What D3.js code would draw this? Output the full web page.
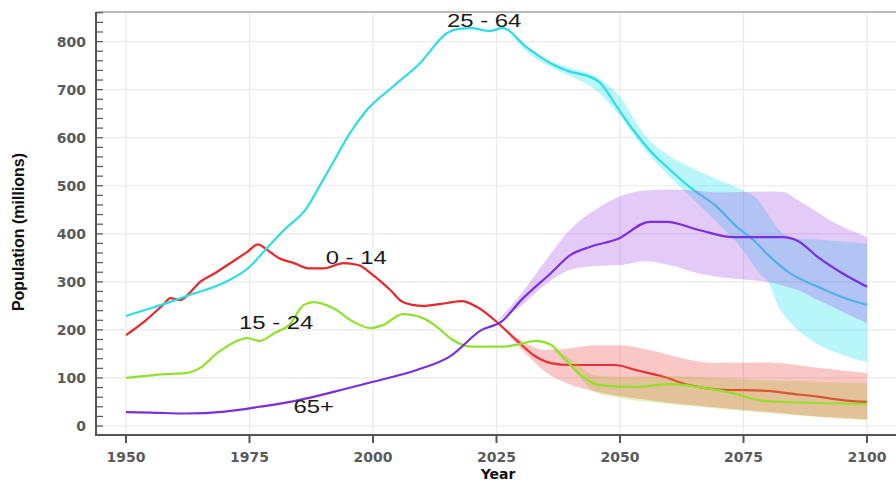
<!DOCTYPE html>
<html>
<head>
<meta charset="utf-8">
<script src="https://cdn.jsdelivr.net/npm/d3@7"></script>
<style>
  html, body { margin: 0; padding: 0; background: #fff; }
  svg { display: block; }
</style>
</head>
<body>
<svg id="chart" width="896" height="482"></svg>
<script>
// median projections, millions, [year, value]
let age0014 = [[1950,189],[1954,220],[1957.5,252],[1959,266],[1961,262],[1962.5,273],[1965,300],[1968,318],
  [1972,345],[1974.5,362],[1976.7,378],[1978.5,367],[1981,349],[1984,339],[1987,328],[1990,328],[1994,339],
  [1997,335],[2000,314],[2003.5,283],[2006,258],[2010,250],[2015,256],[2018,260],[2021,248],[2025,217],
  [2029,179],[2033,144],[2036,131],[2040,127],[2049,127],[2053,117],[2059,102],[2064,85],[2070,76],
  [2080,73],[2084,68],[2090,61],[2095,54],[2100,50]];
let age1524 = [[1950,100],[1958,108],[1962,110],[1965,121],[1968.5,152],[1972,175],[1974.5,183],[1977,177],
  [1980,193],[1983,210],[1986,252],[1988,258],[1992,245],[1996,217],[1999.5,204],[2002,210],[2006,233],
  [2010,225],[2013,206],[2016,180],[2020,165],[2026,165],[2029,169],[2033,177],[2036,169],[2039,137],
  [2042.5,102],[2046,85],[2053,81],[2060,87],[2066,81],[2073,68],[2078,54],[2083,50],[2100,46]];
let age2564 = [[1950,229],[1955,245],[1960,262],[1963,273],[1969.6,297],[1975,331],[1978.5,370],[1982,408],
  [1986.6,454],[1989.5,505],[1992,550],[1995.3,609],[1998.7,657],[2004,706],[2009.5,755],
  [2015,818],[2017,826],[2020,828],[2023.5,822],[2026.3,828],[2031,789],[2036,755],[2040,737],[2043,730],
  [2046,714],[2049.4,664],[2052.7,616],[2056,574],[2059.5,539],[2064,498],[2069.6,456],[2073.7,414],
  [2077,387],[2080.4,352],[2084.4,318],[2090,290],[2095,268],[2100,252]];
let age65 = [[1950,29],[1955,28],[1962,26],[1970,30],[1977,40],[1985,54],[1992,71],[2000,92],[2009,117],
  [2015.6,145],[2022,200],[2026,217],[2030,262],[2036,318],[2040,356],[2044,373],[2049.5,389],[2056,425],
  [2059.5,425],[2066,408],[2073,393],[2083,393],[2086,385],[2090,352],[2095,318],[2100,290]];

// uncertainty bands, [year, low, high]
let band0014 = [[2025,217,217],[2030,160,178],[2035,112,158],[2040,86,162],[2045,72,168],[2050,62,168],
  [2055,55,160],[2060,48,148],[2065,43,136],[2070,38,131],[2080,29,132],[2090,20,121],[2100,14,110]];
let band1524 = [[2035,169,169],[2040,125,140],[2045,70,105],[2050,58,102],[2055,51,103],[2060,46,104],
  [2070,36,100],[2080,27,95],[2090,18,92],[2100,12,89]];
let band2564 = [[2028,815,820],[2030,790,800],[2035,752,762],[2040,728,745],[2045,700,728],[2050,645,685],
  [2055,575,605],[2060,520,562],[2065,470,535],[2070,420,512],[2075,365,490],[2078,320,470],[2080,298,440],
  [2082,250,410],[2085,210,392],[2090,170,388],[2095,148,384],[2100,133,380]];
let band65 = [[2025,217,217],[2030,250,275],[2035,295,345],[2040,325,410],[2045,333,450],[2050,335,478],
  [2055,343,490],[2060,335,492],[2065,320,490],[2070,310,486],[2075,305,487],[2080,300,488],[2083,292,487],
  [2086,283,470],[2090,262,445],[2093,248,425],[2095,238,415],[2100,214,393]];

let xticks = [1950,1975,2000,2025,2050,2075,2100];
let yticks = [0,100,200,300,400,500,600,700,800];

let series = {
  a0014: {name:"0 - 14",  line:age0014, band:band0014, color:"#e8262c", fill:"rgb(240,70,70)",  lab:[1996.6,337]},
  a1524: {name:"15 - 24", line:age1524, band:band1524, color:"#90e02c", fill:"rgb(150,225,40)", lab:[1980.4,202]},
  a2564: {name:"25 - 64", line:age2564, band:band2564, color:"#2cdde6", fill:"rgb(20,225,240)", lab:[2022.5,830]},
  a65:   {name:"65+",     line:age65,   band:band65,   color:"#7b2de0", fill:"rgb(165,80,230)", lab:[1988,27]}
};
// layer order: bands partly over lines, as in the original
let orden = [["a0014","line"],["a1524","band"],["a0014","band"],["a1524","line"],
             ["a2564","band"],["a2564","line"],["a65","band"],["a65","line"]];

let svg = d3.select("#chart");
let mleft = 96, mright = 896, mtop = 12, mbottom = 435;

let xscale = d3.scaleLinear().domain([1950,2100]).range([126,867]);
let yscale = d3.scaleLinear().domain([0,800]).range([426,41.6]);

let plot = svg.append("g");

plot.append("defs").append("clipPath").attr("id","clip")
  .append("rect").attr("x",mleft).attr("y",mtop).attr("width",mright-mleft).attr("height",mbottom-mtop);

// grid
plot.selectAll(".vgrid").data(xticks).enter().append("line")
  .attr("x1",d => xscale(d)).attr("x2",d => xscale(d))
  .attr("y1",mtop).attr("y2",mbottom)
  .style("stroke","#e9e9e9").style("stroke-width",1.2);
plot.selectAll(".hgrid").data(yticks).enter().append("line")
  .attr("x1",mleft).attr("x2",mright)
  .attr("y1",d => yscale(d)).attr("y2",d => yscale(d))
  .style("stroke","#e9e9e9").style("stroke-width",1.2);

let linegen = d3.line().x(d => xscale(d[0])).y(d => yscale(d[1])).curve(d3.curveMonotoneX);
let areagen = d3.area().x(d => xscale(d[0])).y0(d => yscale(d[1])).y1(d => yscale(d[2])).curve(d3.curveMonotoneX);

let marks = plot.append("g").attr("clip-path","url(#clip)");

orden.forEach(o => {
  let s = series[o[0]];
  if (o[1] == "band") {
    marks.append("path")
      .attr("d",areagen(s.band))
      .style("fill",s.fill)
      .style("fill-opacity",0.3)
      .style("stroke","none");
  } else {
    marks.append("path")
      .attr("d",linegen(s.line))
      .style("fill","none")
      .style("stroke",s.color)
      .style("stroke-width",2.2)
      .style("stroke-linejoin","round");
  }
});

// series labels (the original is stretched sideways)
plot.selectAll(".lab").data(Object.values(series)).enter().append("text")
  .attr("transform",d => "translate(" + xscale(d.lab[0]) + "," + yscale(d.lab[1]) + ") scale(1.33,1)")
  .text(d => d.name)
  .style("text-anchor","middle")
  .style("font-family","Liberation Sans, Arial, sans-serif")
  .style("font-size","18px")
  .style("fill","#1a1a1a");

// frame and axes
plot.append("line").attr("x1",mleft).attr("x2",mright).attr("y1",mtop).attr("y2",mtop)
  .style("stroke","#777").style("stroke-width",1.2);
plot.append("line").attr("x1",mleft).attr("x2",mleft).attr("y1",mtop).attr("y2",mbottom+1)
  .style("stroke","#555").style("stroke-width",2);
plot.append("line").attr("x1",mleft-1).attr("x2",mright).attr("y1",mbottom).attr("y2",mbottom)
  .style("stroke","#555").style("stroke-width",2);

plot.selectAll(".ytk").data(d3.range(0,861,20)).enter().append("line")
  .attr("x1",mleft).attr("x2",mleft+7)
  .attr("y1",d => yscale(d)).attr("y2",d => yscale(d))
  .style("stroke","#555").style("stroke-width",1.2);

plot.selectAll(".xtk").data(xticks).enter().append("line")
  .attr("x1",d => xscale(d)).attr("x2",d => xscale(d))
  .attr("y1",mbottom).attr("y2",mbottom+8)
  .style("stroke","#555").style("stroke-width",2);

let tickfont = "DejaVu Sans, Verdana, sans-serif";

plot.selectAll(".ylab").data(yticks).enter().append("text")
  .attr("x",86).attr("y",d => yscale(d)).attr("dy","0.36em")
  .text(d => d)
  .style("text-anchor","end")
  .style("font-family",tickfont).style("font-weight","bold")
  .style("font-size","14px").style("fill","#5a5a5a");

plot.selectAll(".xlab").data(xticks).enter().append("text")
  .attr("x",d => xscale(d)).attr("y",462)
  .text(d => d)
  .style("text-anchor","middle")
  .style("font-family",tickfont).style("font-weight","bold")
  .style("font-size","14px").style("fill","#5a5a5a");

svg.append("text")
  .attr("x",498).attr("y",479)
  .text("Year")
  .style("text-anchor","middle")
  .style("font-family",tickfont).style("font-weight","bold")
  .style("font-size","14px").style("fill","#111");

svg.append("text")
  .attr("transform","translate(24,232) rotate(-90)")
  .text("Population (millions)")
  .style("text-anchor","middle")
  .style("font-family","Liberation Sans, Arial, sans-serif").style("font-weight","bold")
  .style("font-size","16px").style("fill","#111");
</script>
</body>
</html>
